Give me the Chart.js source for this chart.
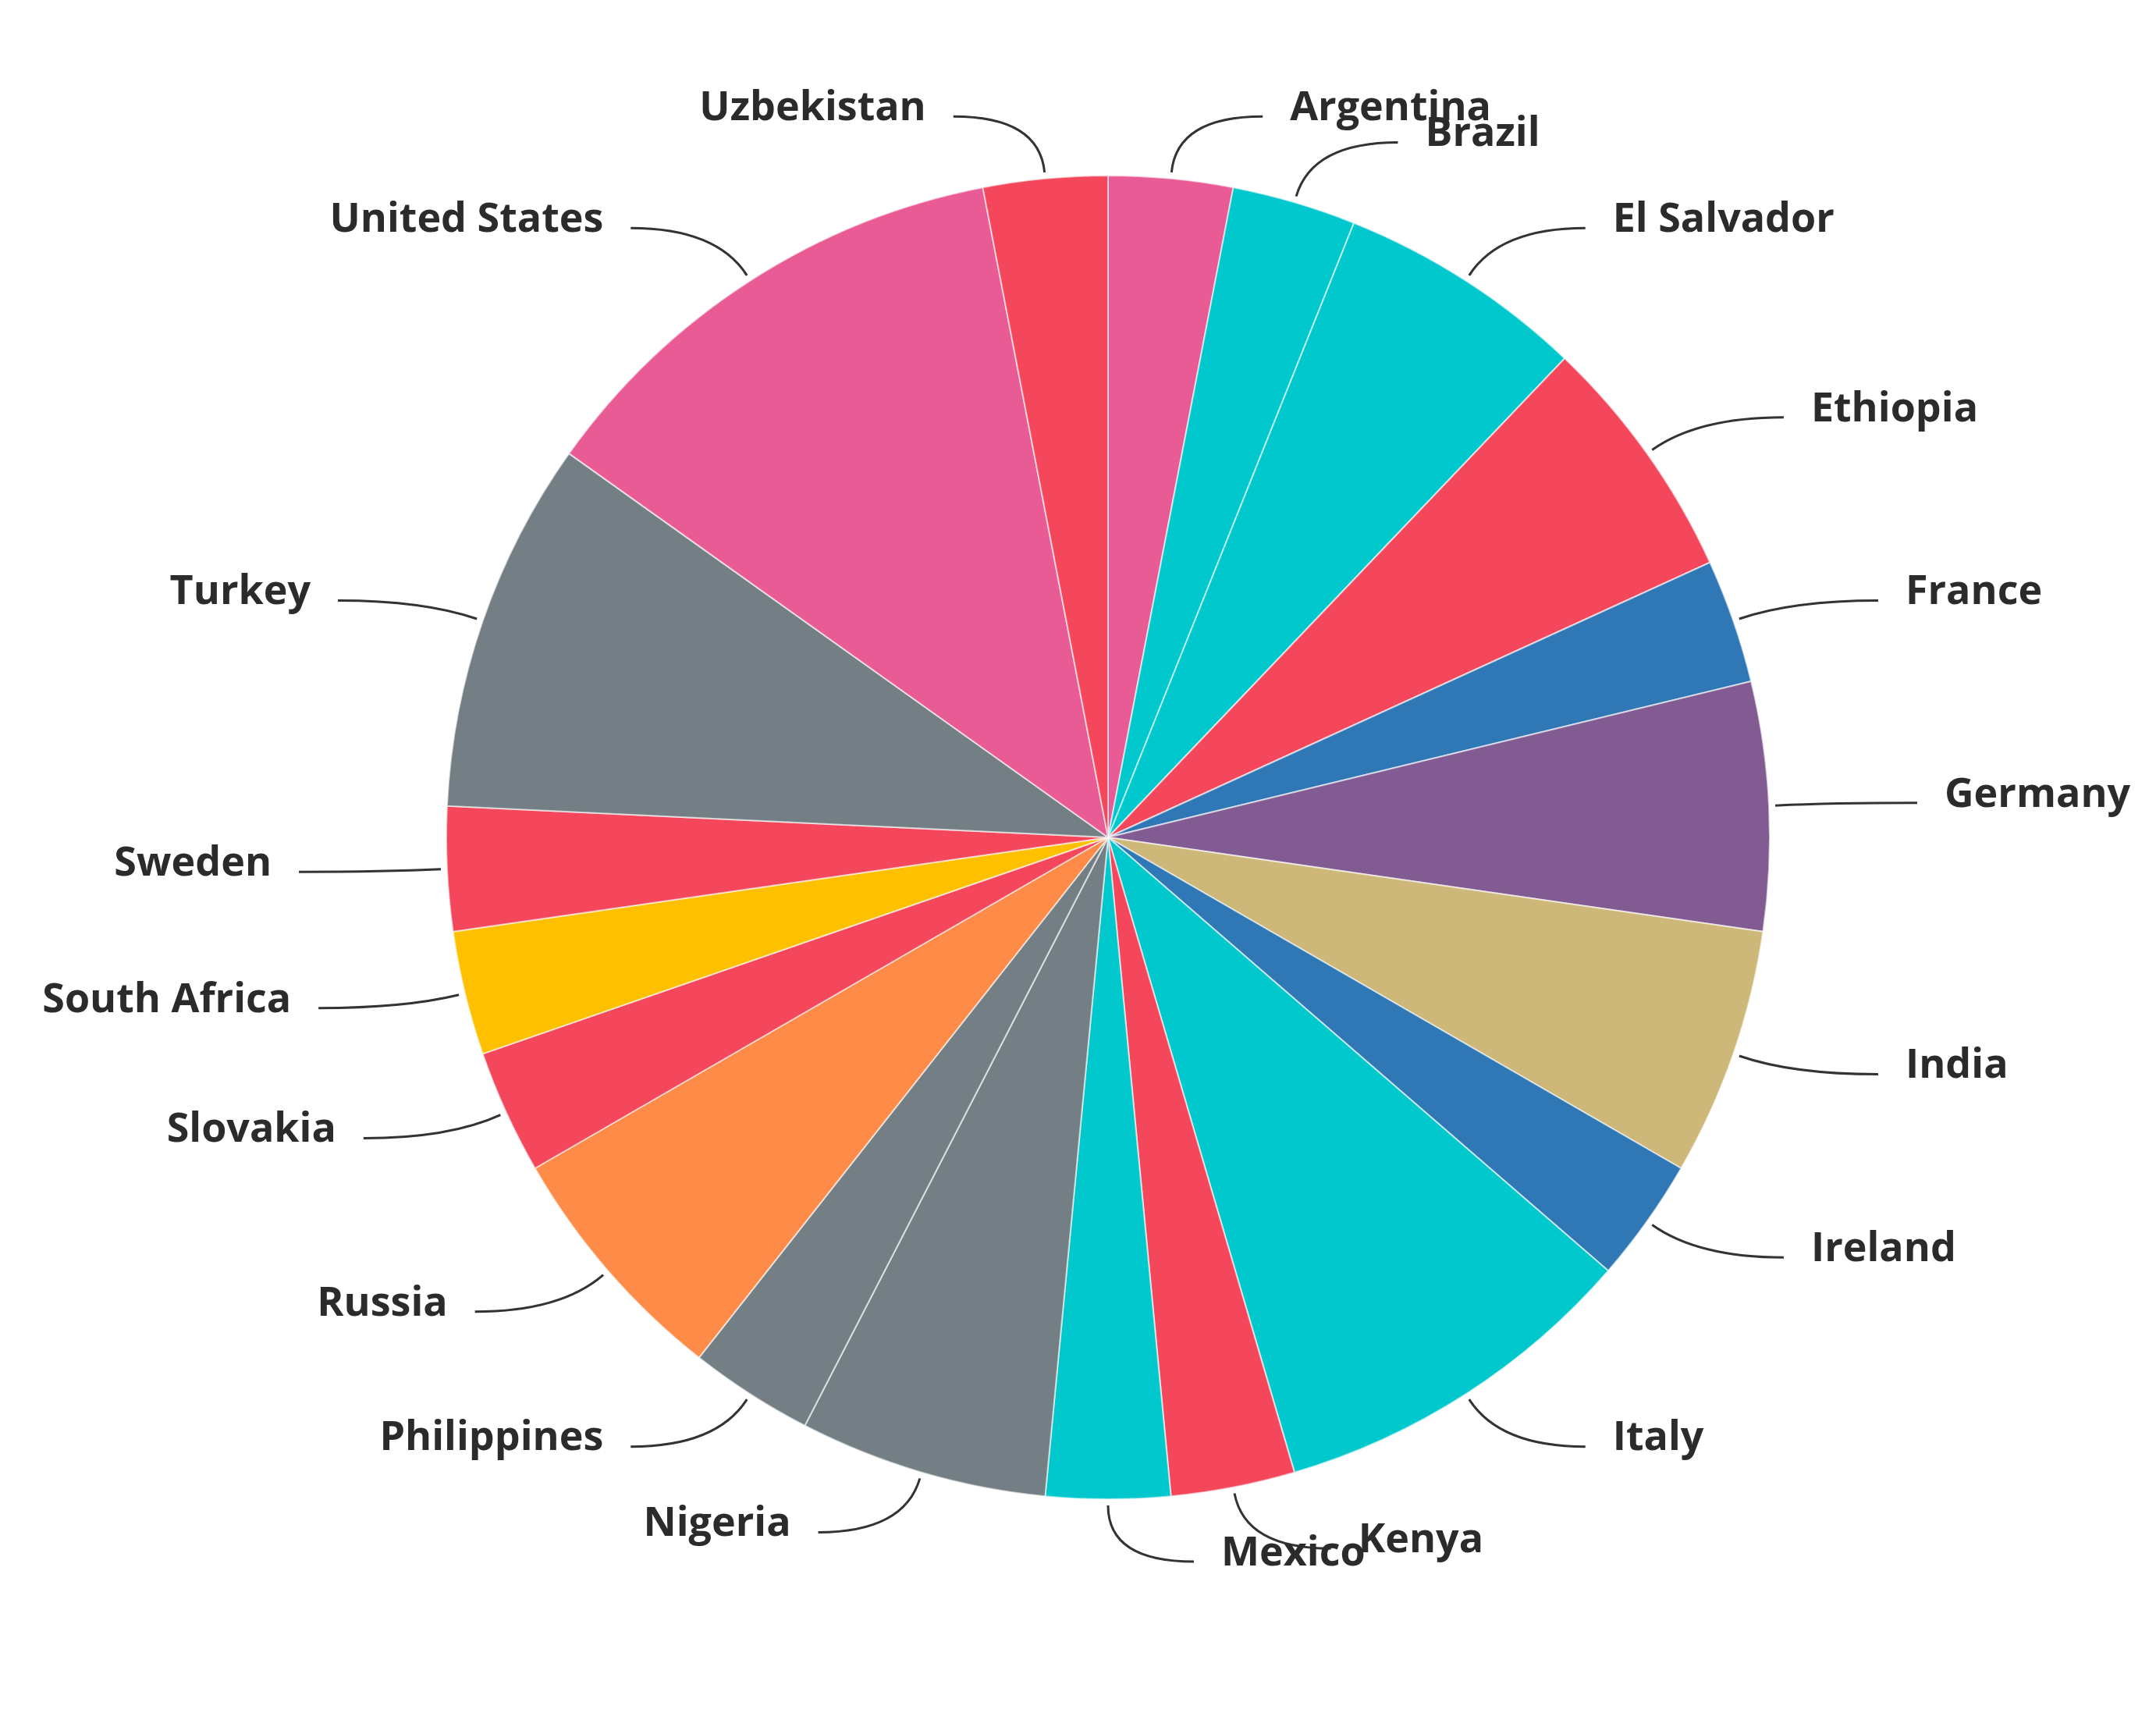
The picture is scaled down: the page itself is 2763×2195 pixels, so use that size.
<!DOCTYPE html>
<html>
<head>
<meta charset="utf-8">
<script src="https://cdn.jsdelivr.net/npm/chart.js@4.4.1/dist/chart.umd.min.js"></script>
<style>
  body { margin: 0; background: #fff; }
  canvas { display: block; }
</style>
</head>
<body>
<canvas id="countryPie" width="2763" height="2195"></canvas>
<script>
// Data
const countries = ['Argentina', 'Brazil', 'El Salvador', 'Ethiopia', 'France', 'Germany', 'India', 'Ireland', 'Italy', 'Kenya',
    'Mexico', 'Nigeria', 'Philippines', 'Russia', 'Slovakia', 'South Africa', 'Sweden', 'Turkey', 'United States', 'Uzbekistan'];
const counts = [1, 1, 2, 2, 1, 2, 2, 1, 3, 1, 1, 2, 1, 2, 1, 1, 1, 3, 4, 1];
const sliceColors = ['#E95B94', '#00C8CC', '#00C8CC', '#F5475C', '#2F78B5', '#825B92', '#CDB87A', '#2F78B5', '#00C8CC', '#F5475C',
    '#00C8CC', '#737F85', '#737F85', '#FF8B48', '#F5475C', '#FFC000', '#F5475C', '#737F85', '#E95B94', '#F5475C'];

// ::::: Leader lines and labels around the pie :::::
const leaderLabels = {
    id: 'leaderLabels',
    afterDatasetsDraw(chart) {
        const ctx = chart.ctx;
        const arcs = chart.getDatasetMeta(0).data;
        ctx.save();
        ctx.strokeStyle = '#333';
        ctx.lineWidth = 3;
        ctx.fillStyle = '#2b2b2b';
        ctx.font = 'bold 52px "Open Sans", sans-serif';
        ctx.textBaseline = 'middle';
        arcs.forEach((arc, i) => {
            const mid = (arc.startAngle + arc.endAngle) / 2;
            const r = arc.outerRadius;
            const cos = Math.cos(mid), sin = Math.sin(mid);
            const x1 = arc.x + cos * (r + 8), y1 = arc.y + sin * (r + 8);
            const x2 = arc.x + cos * (r + 80), y2 = arc.y + sin * (r + 80);
            const right = cos >= 0;
            const x3 = x2 + (right ? 110 : -110);
            ctx.beginPath();
            ctx.moveTo(x1, y1);
            ctx.quadraticCurveTo(x2, y2, x3, y2);
            ctx.stroke();
            ctx.textAlign = right ? 'left' : 'right';
            ctx.fillText(countries[i], x3 + (right ? 35 : -35), y2 - 10);
        });
        ctx.restore();
    }
};

new Chart(document.getElementById('countryPie'), {
    type: 'pie',
    data: {
        labels: countries,
        datasets: [{
            data: counts,
            backgroundColor: sliceColors,
            borderColor: 'rgba(255,255,255,0.6)',
            borderWidth: 2
        }]
    },
    options: {
        responsive: false,
        animation: false,
        layout: { padding: { left: 571, right: 494, top: 224, bottom: 273 } },
        plugins: {
            legend: { display: false },
            tooltip: { enabled: false }
        }
    },
    plugins: [leaderLabels]
});
</script>
</body>
</html>
